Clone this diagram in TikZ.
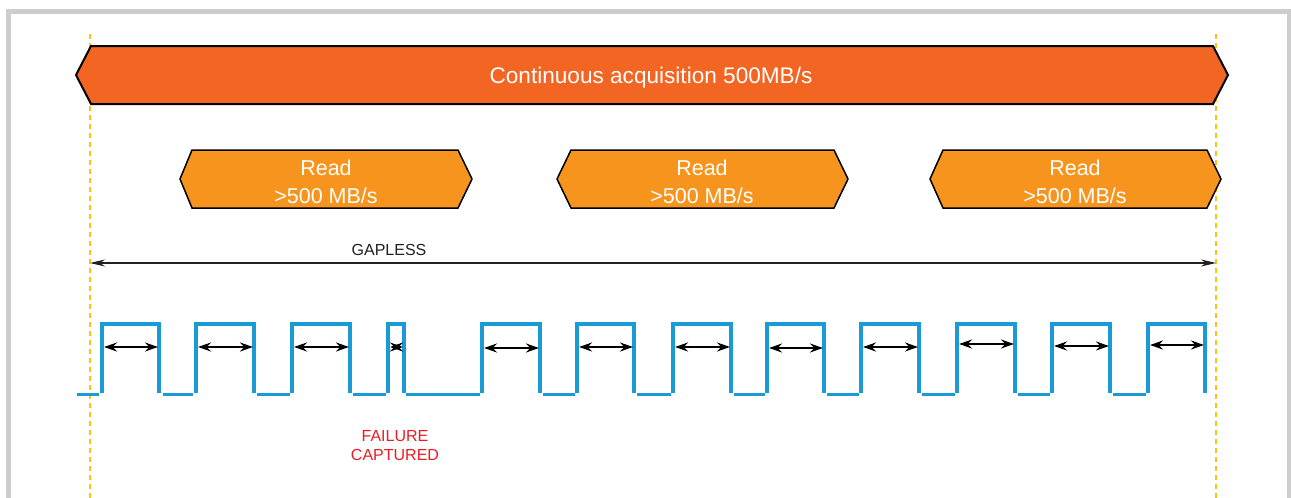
\documentclass[tikz,border=0pt]{standalone}
\usepackage{fontspec}
\setmainfont{Liberation Sans}
\usetikzlibrary{arrows.meta}
\definecolor{acqorange}{HTML}{F26522}
\definecolor{readorange}{HTML}{F7941D}
\definecolor{framegray}{HTML}{CDCDCD}
\definecolor{guidegold}{HTML}{FFC20E}
\definecolor{waveblue}{HTML}{1A9AD6}
\definecolor{failred}{HTML}{ED1C24}
\definecolor{inkdark}{HTML}{231F20}
\tikzset{
  framebox/.style={draw=framegray, line width=5pt},
  guideline/.style={draw=guidegold, line width=1.3pt, dash pattern=on 5pt off 4pt},
  bigarrow/.style={fill=acqorange, draw=black, line width=2pt, line join=miter},
  readbox/.style={fill=readorange, draw=black, line width=1.5pt, line join=miter},
  wave/.style={draw=waveblue, line width=3.2pt, line join=miter},
  gaparrow/.style={draw=inkdark, line width=1.4pt, {Stealth[length=15pt,width=7pt]}-{Stealth[length=15pt,width=7pt]}},
  pulsearrow/.style={draw=black, line width=2.3pt, {Stealth[length=13pt,width=9pt]}-{Stealth[length=13pt,width=9pt]}},
  titletext/.style={text=white, font=\fontsize{22.6}{26}\selectfont, inner sep=0pt},
  readtext/.style={text=white, font=\fontsize{21.5}{28}\selectfont, align=center, inner sep=0pt},
  gaptext/.style={text=inkdark, font=\fontsize{16}{19}\selectfont, inner sep=0pt},
  failtext/.style={text=failred, font=\fontsize{16}{19}\selectfont, align=center, inner sep=0pt},
}
\begin{document}
\begin{tikzpicture}[x=1pt,y=-1pt]
\useasboundingbox (0,0) rectangle (1291,498);
\clip (0,0) rectangle (1291,498);
\fill[white] (0,0) rectangle (1291,498);
% outer frame
\draw[framebox] (8.5,530) -- (8.5,11.5) -- (1289.5,11.5) -- (1289.5,530);
% guide lines
\coordinate (gtopL) at (90,34);
\coordinate (gbotL) at (90,498);
\coordinate (gtopR) at (1216,34);
\coordinate (gbotR) at (1216,498);
\draw[guideline] (gtopL) -- (gbotL);
\draw[guideline] (gtopR) -- (gbotR);
% continuous acquisition arrow
\draw[bigarrow] (76,75) -- (91,46) -- (1213,46) -- (1228,75) -- (1213,104) -- (91,104) -- cycle;
\node[titletext, anchor=base] (acq) at (651,83) {Continuous acquisition 500MB/s};
% read boxes
\draw[readbox] (180,179) -- (192,150) -- (458,150) -- (472,179) -- (458,208) -- (192,208) -- cycle;
\draw[readbox] (557,179) -- (571,150) -- (834,150) -- (848,179) -- (834,208) -- (571,208) -- cycle;
\draw[readbox] (930,179) -- (943,150) -- (1207,150) -- (1221,179) -- (1207,208) -- (943,208) -- cycle;
\node[readtext] (read1) at (326,181.5) {Read\\>500 MB/s};
\node[readtext] (read2) at (702,181.5) {Read\\>500 MB/s};
\node[readtext] (read3) at (1075,181.5) {Read\\>500 MB/s};
% gapless
\node[gaptext, anchor=base] (gapless) at (389,255) {GAPLESS};
\coordinate (gapL) at (90,263);
\coordinate (gapR) at (1216,263);
\draw[gaparrow] (gapL) -- (gapR);
% waveform: low segments
\foreach \a/\b [count=\i] in {77/99,163/193,257/290,353/386,406/480,543/575,637/671,734/765,827/859,922/955,1018/1050,1113/1146}{
  \coordinate (lowa\i) at (\a,394.5);
  \coordinate (lowb\i) at (\b,394.5);
  \draw[wave] (lowa\i) -- (lowb\i);
}
% waveform: pulses with width arrows
\foreach \r/\f/\y [count=\i] in {102/159/347,196/254/347,292/350/347,388/404/347,482/540/348,577/634/347,673/731/347,767/824/348,861/919/347,957/1015/344,1052/1110/346,1148/1205/345}{
  \coordinate (rb\i) at (\r,393);
  \coordinate (rt\i) at (\r,324);
  \coordinate (ft\i) at (\f,324);
  \coordinate (fb\i) at (\f,393);
  \draw[wave] (rb\i) -- (rt\i) -- (ft\i) -- (fb\i);
  \coordinate (pa\i) at ({\r+2},\y);
  \coordinate (pb\i) at ({\f-1},\y);
  \draw[pulsearrow] (pa\i) -- (pb\i);
}
% failure label
\node[failtext] (fail) at (395,446) {FAILURE\\CAPTURED};
\end{tikzpicture}
\end{document}
